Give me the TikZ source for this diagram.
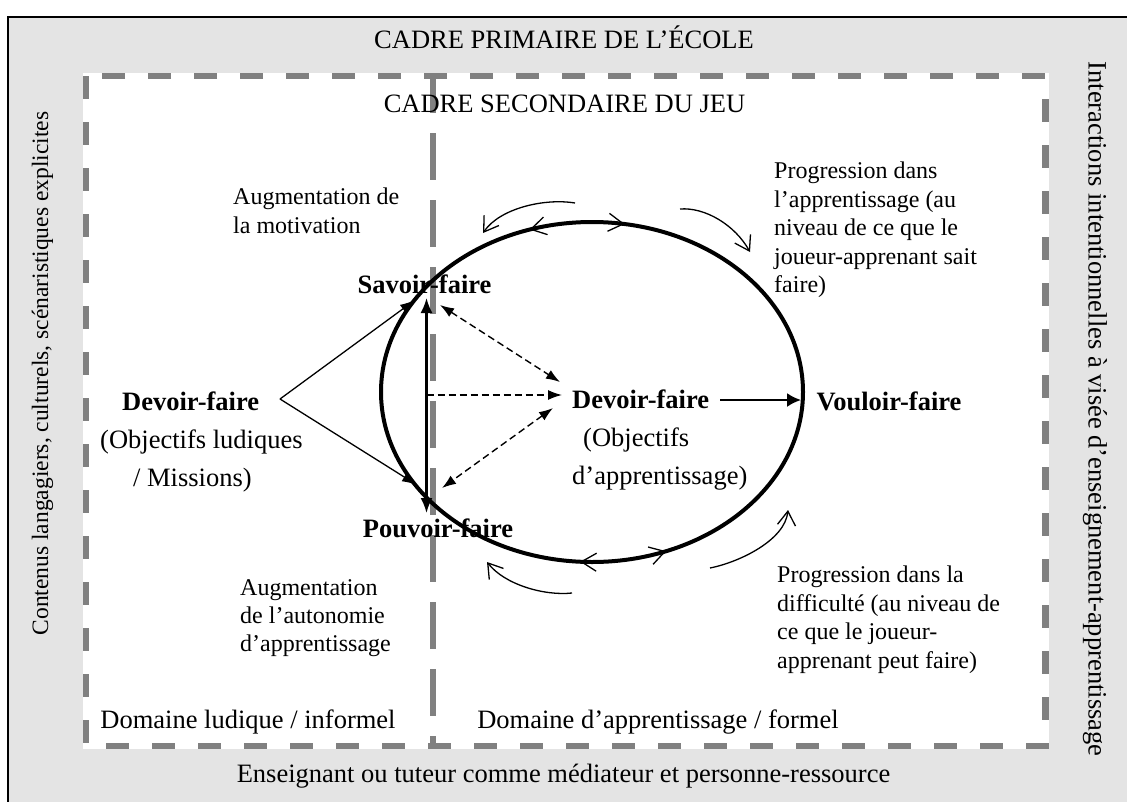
\documentclass[tikz,border=0pt]{standalone}
\usepackage{fontspec}
\setmainfont{Liberation Serif}
\usetikzlibrary{arrows.meta,shapes.geometric}
\definecolor{bggray}{RGB}{228,228,228}
\definecolor{dashgray}{RGB}{128,128,128}
\tikzset{dtip/.tip={Latex[length=14pt,width=10pt]}}
\begin{document}
\begin{tikzpicture}[x=1pt,y=-1pt,
  bigtxt/.style={font=\fontsize{26.5}{32}\selectfont, inner sep=0pt},
  sidetxt/.style={font=\fontsize{23.5}{28}\selectfont, inner sep=0pt},
  smalltxt/.style={font=\fontsize{24}{28.4}\selectfont, inner sep=0pt, align=left},
  boldtxt/.style={font=\fontsize{26.5}{38}\selectfont\bfseries, inner sep=0pt},
  blocktxt/.style={font=\fontsize{26.5}{38}\selectfont, inner sep=0pt, align=left},
  framedash/.style={draw=dashgray, line width=6.5pt, dash pattern=on 23pt off 23pt},
  divider/.style={draw=dashgray, line width=5.5pt, dash pattern=on 47pt off 20pt, dash phase=10pt},
  forkarrow/.style={line width=1.3pt, -{Latex[length=15pt,width=10pt]}},
  vertarrow/.style={line width=2.2pt, {Latex[length=15pt,width=12pt]}-{Latex[length=15pt,width=12pt]}},
  dasharrow/.style={line width=1.4pt, dash pattern=on 7pt off 4pt},
  mainarrow/.style={line width=2pt, -{Latex[length=14pt,width=14pt]}},
  chev/.style={line width=1.3pt, -{Straight Barb[length=15pt,width=18pt]}},
  curvearrow/.style={line width=1.3pt, -{Straight Barb[length=14pt,width=18pt]}}
]
\useasboundingbox (0,0) rectangle (1127,801);
% outer frame
\fill[bggray] (8,17) rectangle (1140,815);
\draw[line width=2pt] (8,815) -- (8,17) -- (1140,17);
% inner game frame
\fill[white] (83,73) rectangle (1049,749);
\draw[framedash] (86,76) rectangle (1045.5,746);
\draw[divider] (433,76) -- (433,746);

% ellipse
\node[draw, ellipse, line width=4pt, minimum width=422pt, minimum height=340pt, inner sep=0pt, outer sep=0pt] (E) at (592,392) {};
\draw[chev] (E.82.5) -- (E.79.7);
\draw[chev] (E.109) -- (E.111.7);
\draw[chev] (E.269.5) -- (E.266.6);
\draw[chev] (E.293) -- (E.295.7);

% curved arrows around the ellipse
\coordinate (c1s) at (575,203); \coordinate (c1e) at (483,233);
\coordinate (c2s) at (680,209); \coordinate (c2e) at (750,252);
\coordinate (c3s) at (572,593); \coordinate (c3e) at (487,562);
\coordinate (c4s) at (710,568); \coordinate (c4e) at (788,510);
\draw[curvearrow] (c1s) .. controls (545,198) and (500,208) .. (c1e);
\draw[curvearrow] (c2s) .. controls (705,207) and (735,225) .. (c2e);
\draw[curvearrow] (c3s) .. controls (545,596) and (505,585) .. (c3e);
\draw[curvearrow] (c4s) .. controls (740,562) and (785,540) .. (c4e);

% texts
\node[bigtxt, anchor=base] (t1) at (564,48) {CADRE PRIMAIRE DE L’ÉCOLE};
\node[bigtxt, anchor=base] (t2) at (564.5,112) {CADRE SECONDAIRE DU JEU};
\node[bigtxt, anchor=base] (t3) at (563.5,782) {Enseignant ou tuteur comme médiateur et personne-ressource};
\node[bigtxt, anchor=base] (dl) at (248,728) {Domaine ludique / informel};
\node[bigtxt, anchor=base] (da) at (658,728) {Domaine d’apprentissage / formel};
\node[sidetxt, rotate=90] (lt) at (42.5,373.5) {Contenus langagiers, culturels, scénaristiques explicites};
\node[bigtxt, rotate=-90] (rt) at (1095,409) {Interactions intentionnelles à visée d’enseignement-apprentissage};

\node[smalltxt, anchor=north west] (am) at (233,188) {Augmentation de\\la motivation};
\node[smalltxt, anchor=north west] (pa) at (774,162) {Progression dans\\l’apprentissage (au\\niveau de ce que le\\joueur-apprenant sait\\faire)};
\node[smalltxt, anchor=north west] (aa) at (240,579) {Augmentation\\de l’autonomie\\d’apprentissage};
\node[smalltxt, anchor=north west] (pd) at (777,566) {Progression dans la\\difficulté (au niveau de\\ce que le joueur-\\apprenant peut faire)};

\node[blocktxt, anchor=north west] (dfl) at (100,392) {\hspace*{22pt}\textbf{Devoir-faire}\\(Objectifs ludiques\\\hspace*{33pt}/ Missions)};
\node[blocktxt, anchor=north west] (dfc) at (572,390) {\textbf{Devoir-faire}\\\hspace*{11pt}(Objectifs\\d’apprentissage)};

\node[boldtxt, anchor=base] (sf) at (424.5,293) {Savoir-faire};
\node[boldtxt, anchor=base] (pf) at (438,537) {Pouvoir-faire};
\node[boldtxt, anchor=base] (vf) at (889,410) {Vouloir-faire};

% connectors
\coordinate (fork) at (280,399);
\coordinate (sfTip) at (415,300);
\coordinate (pfTip) at (417,485);
\coordinate (vTop) at (426.5,298);
\coordinate (vBot) at (426.5,513);
\coordinate (vMid) at (426.5,395);
\coordinate (dcW) at (562,395);
\coordinate (dcNW) at (560,382);
\coordinate (dcSW) at (553,408);
\coordinate (sfDash) at (440,305);
\coordinate (pfDash) at (442,488);
\coordinate (dvS) at (720,400);
\coordinate (dvE) at (801,400);

\draw[forkarrow] (fork) -- (sfTip);
\draw[forkarrow] (fork) -- (pfTip);
\draw[vertarrow] (vTop) -- (vBot);
\draw[dasharrow, -dtip] (vMid) -- (dcW);
\draw[dasharrow, dtip-dtip] (sfDash) -- (dcNW);
\draw[dasharrow, dtip-dtip] (dcSW) -- (pfDash);
\draw[mainarrow] (dvS) -- (dvE);
\end{tikzpicture}
\end{document}
